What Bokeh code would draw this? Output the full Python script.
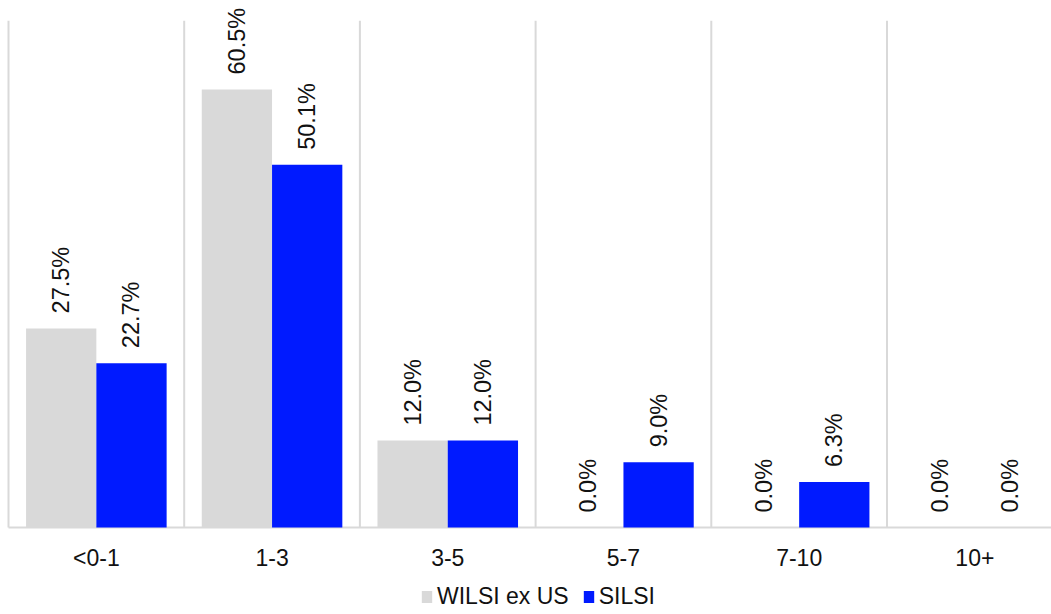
from bokeh.plotting import figure
from bokeh.models import Range1d, ColumnDataSource, Legend, LegendItem
from bokeh.embed import file_html
from bokeh.resources import INLINE
from bokeh.core.properties import value
import math

# Maturity buckets and the share of each index in them (%)
categories = ["<0-1", "1-3", "3-5", "5-7", "7-10", "10+"]
wilsi_ex_us = [27.5, 60.5, 12.0, 0.0, 0.0, 0.0]
silsi = [22.7, 50.1, 12.0, 9.0, 6.3, 0.0]
series_names = ["WILSI ex US", "SILSI"]

GRAY = "#d9d9d9"
BLUE = "#001aff"
FONT = "Liberation Sans"
TEXT_COLOR = "#111111"

W, H = 1051, 614
LEFT_PX = 8          # screen position of the first category boundary
BASE_PX = 527        # screen position of the zero line
CAT_PX = 175.7       # pixels per category
PCT_PX = 7.24        # pixels per percentage point
Y_TOP = 70           # top of the plotting area, in %

n = len(categories)
bar_w = 0.4
x_gray = [i + 0.3 for i in range(n)]
x_blue = [i + 0.7 for i in range(n)]

src_gray = ColumnDataSource(dict(x=x_gray, top=wilsi_ex_us,
                                 lbl=[f"{v:.1f}%" for v in wilsi_ex_us]))
src_blue = ColumnDataSource(dict(x=x_blue, top=silsi,
                                 lbl=[f"{v:.1f}%" for v in silsi]))

x_range = Range1d(-LEFT_PX / CAT_PX, (W - LEFT_PX) / CAT_PX)
y_range = Range1d(-(H - BASE_PX) / PCT_PX, BASE_PX / PCT_PX)

p = figure(width=W, height=H, output_backend="svg", toolbar_location=None,
           x_range=x_range, y_range=y_range,
           min_border=0, min_border_left=0, min_border_right=0,
           min_border_top=0, min_border_bottom=0)
p.outline_line_color = None
p.background_fill_color = "white"
p.border_fill_color = "white"
p.xaxis.visible = False
p.yaxis.visible = False
p.xgrid.visible = False
p.ygrid.visible = False

# Category boundaries
bounds = list(range(n + 1))
p.segment(x0=bounds, y0=[0] * len(bounds), x1=bounds, y1=[Y_TOP] * len(bounds),
          line_color=GRAY, line_width=2)
# Zero line
p.segment(x0=[0], y0=[0], x1=[x_range.end], y1=[0], line_color=GRAY, line_width=2)

r_gray = p.vbar(x="x", top="top", width=bar_w, source=src_gray,
                fill_color=GRAY, line_color=None)
r_blue = p.vbar(x="x", top="top", width=bar_w, source=src_blue,
                fill_color=BLUE, line_color=None)

for src in (src_gray, src_blue):
    p.text(x="x", y="top", text="lbl", source=src, angle=math.pi / 2,
           text_align="left", text_baseline="middle", y_offset=-15,
           text_font=value(FONT), text_font_size="23.5px", text_color=TEXT_COLOR)

# Category labels under the zero line
cat_src = ColumnDataSource(dict(x=[i + 0.5 for i in range(n)], y=[0] * n, t=categories))
p.text(x="x", y="y", text="t", source=cat_src, y_offset=30,
       text_align="center", text_baseline="middle",
       text_font=value(FONT), text_font_size="23px", text_color=TEXT_COLOR)

legend = Legend(items=[LegendItem(label=series_names[0], renderers=[r_gray]),
                       LegendItem(label=series_names[1], renderers=[r_blue])],
                orientation="horizontal", location=(420, 4),
                glyph_width=13, glyph_height=15, label_standoff=4, spacing=13,
                padding=0, margin=0, border_line_color=None,
                background_fill_alpha=0,
                label_text_font=FONT, label_text_font_size="23px",
                label_text_color=TEXT_COLOR)
p.add_layout(legend)

open("out.html", "w").write(file_html(p, INLINE))
